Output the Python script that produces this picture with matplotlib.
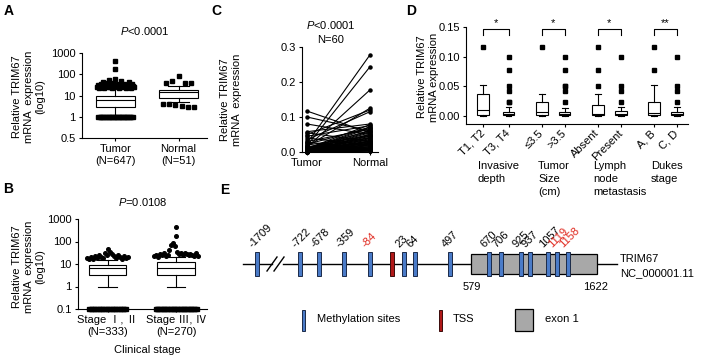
import numpy as np
import matplotlib
matplotlib.use("Agg")
import matplotlib.pyplot as plt
from matplotlib.patches import Rectangle

plt.rcParams['font.family'] = ['Liberation Sans', 'Noto Sans CJK SC', 'DejaVu Sans']
plt.rcParams['font.size'] = 8
plt.rcParams['mathtext.fontset'] = 'custom'
plt.rcParams['mathtext.it'] = 'Liberation Sans:italic'
plt.rcParams['mathtext.rm'] = 'Liberation Sans'
plt.rcParams['axes.linewidth'] = 0.8
plt.rcParams['xtick.major.width'] = 0.8
plt.rcParams['ytick.major.width'] = 0.8
plt.rcParams['xtick.major.size'] = 2.5
plt.rcParams['ytick.major.size'] = 2.5

# ---------------- data ----------------
# Panel A
a_labels = ["Tumor\n(N=647)", "Normal\n(N=51)"]
a_tumor_box = [1, 3, 6, 10, 22]          # whislo, q1, med, q3, whishi
a_normal_box = [5, 8, 15, 18, 27]
a_tumor_high = [24, 30, 22, 28, 35, 25, 45, 23, 32, 27, 40, 24, 55, 26, 30, 22, 38, 25,
                60, 28, 33, 23, 26, 48, 29, 24, 36, 27, 22, 31, 25, 42, 26, 23, 35, 28, 24]
a_tumor_top = [180, 430]
a_tumor_low = [1.0] * 28
a_normal_high = [40, 50, 85, 40, 40]
a_normal_low = [4, 3.8, 3.5, 3.2, 3, 3]
a_yticks = [0.5, 1, 10, 100, 1000]

# Panel B
b_labels = ["Stage Ⅰ, Ⅱ\n(N=333)", "Stage Ⅲ, Ⅳ\n(N=270)"]
b_early_box = [1, 3.2, 6.5, 9, 15]
b_late_box = [1, 3.2, 6.5, 12, 20]
b_early_high = [18, 16, 20, 17, 22, 19, 25, 21, 18, 30, 24, 45, 35, 27, 22, 19, 24, 20, 17, 22, 18, 20]
b_late_high = [22, 25, 21, 28, 24, 30, 23, 26, 40, 70, 85, 60, 35, 28, 32, 25, 30, 27, 24, 29, 26, 23, 30, 22]
b_late_top = [170, 440]
b_early_zero = [0.1] * 24
b_late_zero = [0.1] * 30
b_yticks = [0.1, 1, 10, 100, 1000]

# Panel C (paired)
c_labels = ["Tumor", "Normal"]
c_tumor = [0.117, 0.100, 0.080, 0.058, 0.055, 0.050, 0.045, 0.040, 0.035, 0.030, 0.028, 0.025,
           0.022, 0.020, 0.018, 0.016, 0.015, 0.014, 0.012, 0.011, 0.010, 0.010, 0.009, 0.008,
           0.008, 0.007, 0.007, 0.006, 0.006, 0.005, 0.005, 0.005, 0.004, 0.004, 0.004, 0.003,
           0.003, 0.003, 0.003, 0.002, 0.002, 0.002, 0.002, 0.002, 0.001, 0.001, 0.001, 0.001,
           0.001, 0.001, 0.001, 0.001, 0.0005, 0.0005, 0.0005, 0.0005, 0.0003, 0.0003, 0.0002, 0.0002]
c_normal = [0.055, 0.060, 0.050, 0.080, 0.030, 0.120, 0.075, 0.020, 0.115, 0.065, 0.010, 0.277,
            0.070, 0.045, 0.243, 0.125, 0.040, 0.177, 0.060, 0.035, 0.078, 0.050, 0.025, 0.072,
            0.030, 0.068, 0.015, 0.062, 0.040, 0.058, 0.020, 0.055, 0.048, 0.012, 0.045, 0.042,
            0.030, 0.038, 0.008, 0.035, 0.032, 0.025, 0.028, 0.022, 0.018, 0.050, 0.015, 0.010,
            0.030, 0.008, 0.005, 0.020, 0.012, 0.004, 0.025, 0.006, 0.015, 0.003, 0.010, 0.002]

# Panel D
d_labels = ["T1, T2", "T3, T4", "≤3.5", ">3.5", "Absent", "Present", "A, B", "C, D"]
d_groups = ["Invasive\ndepth", "Tumor\nSize\n(cm)", "Lymph\nnode\nmetastasis", "Dukes\nstage"]
d_sig = ["*", "*", "*", "**"]
d_whislo = [0, 0, 0, 0, 0, 0, 0, 0]
d_q1 = [0.001, 0.001, 0.002, 0.001, 0.001, 0.001, 0.002, 0.001]
d_med = [0.010, 0.004, 0.006, 0.004, 0.004, 0.003, 0.005, 0.003]
d_q3 = [0.037, 0.007, 0.023, 0.007, 0.019, 0.009, 0.024, 0.007]
d_whishi = [0.052, 0.015, 0.037, 0.014, 0.037, 0.015, 0.052, 0.015]
d_fliers = [[0.117],
            [0.023, 0.024, 0.042, 0.050, 0.078, 0.100],
            [0.117],
            [0.023, 0.042, 0.050, 0.051, 0.078, 0.100],
            [0.051, 0.078, 0.117],
            [0.023, 0.042, 0.050, 0.100],
            [0.078, 0.117],
            [0.023, 0.042, 0.050, 0.100]]

# Panel E
e_sites = ["-1709", "-722", "-678", "-359", "-84", "23", "64", "497",
           "670", "706", "925", "937", "1057", "1119", "1158"]
e_red_sites = ["-84", "1119", "1158"]
e_exon_ends = ["579", "1622"]

# ---------------- figure ----------------
W, H = 704, 360
fig = plt.figure(figsize=(W / 100, H / 100), dpi=100)


def px_axes(x0, y0, x1, y1):
    return fig.add_axes([x0 / W, 1 - y1 / H, (x1 - x0) / W, (y1 - y0) / H])


def ftext(x, y, s, **kw):
    fig.text(x / W, 1 - y / H, s, **kw)


def style(ax):
    for s in ['top', 'right']:
        ax.spines[s].set_visible(False)
    ax.tick_params(labelsize=8, pad=2)


def box_stats(vals):
    return dict(whislo=vals[0], q1=vals[1], med=vals[2], q3=vals[3], whishi=vals[4], fliers=[])


def draw_boxes(ax, stats, pos, width, capw):
    ax.bxp(stats, positions=pos, widths=width, showfliers=False, patch_artist=True,
           capwidths=capw,
           boxprops=dict(facecolor='white', edgecolor='black', linewidth=0.8),
           medianprops=dict(color='black', linewidth=0.8),
           whiskerprops=dict(color='black', linewidth=0.8),
           capprops=dict(color='black', linewidth=0.8))


def spread(ax, x, vals, hw, marker, ms, **kw):
    n = len(vals)
    offs = np.linspace(-hw, hw, n) if n > 1 else np.zeros(1)
    ax.plot(x + offs, vals, linestyle='none', marker=marker, ms=ms, color='black',
            clip_on=False, zorder=5, **kw)


def panel_letter(x, y, s):
    ftext(x, y, s, fontsize=10, fontweight='bold', ha='center', va='center')


# axis of panel A: log above 1, a compressed (broken) segment from 0.5 to 1
def a_fwd(y):
    y = np.asarray(y, dtype=float)
    with np.errstate(divide='ignore', invalid='ignore'):
        return np.where(y >= 1, np.log10(np.maximum(y, 1e-12)), (y - 1) / 0.5)


def a_inv(u):
    u = np.asarray(u, dtype=float)
    return np.where(u >= 0, 10.0 ** u, 1 + 0.5 * u)


# ---- Panel A ----
axA = px_axes(82, 53, 207, 138)
style(axA)
axA.set_yscale('function', functions=(a_fwd, a_inv))
draw_boxes(axA, [box_stats(a_tumor_box), box_stats(a_normal_box)], [1, 2], 0.62, 0.32)
spread(axA, 1, a_tumor_high, 0.3, 's', 2.6)
spread(axA, 1, a_tumor_top, 0.0, 's', 2.6)
spread(axA, 1, a_tumor_low, 0.27, 's', 2.6)
spread(axA, 2, a_normal_high, 0.2, 's', 2.6)
spread(axA, 2, a_normal_low, 0.25, 's', 2.6)
axA.set_ylim(0.5, 1000)
axA.set_xlim(0.47, 2.45)
axA.set_yticks(a_yticks)
axA.set_yticklabels([f"{v:g}" for v in a_yticks])
axA.minorticks_off()
axA.set_xticks([1, 2])
axA.set_xticklabels(a_labels)
axA.set_title(r'$P$<0.0001', fontsize=8, pad=13)
ftext(29, 97, "Relative TRIM67\nmRNA  expression\n(log10)", rotation=90, ha='center', va='center',
      multialignment='center')
panel_letter(9, 11, "A")

# ---- Panel B ----
axB = px_axes(78, 219, 207, 309)
style(axB)
axB.set_yscale('log')
draw_boxes(axB, [box_stats(b_early_box), box_stats(b_late_box)], [1, 2], 0.55, 0.27)
spread(axB, 1, b_early_high, 0.3, 'o', 2.6)
spread(axB, 2, b_late_high, 0.32, 'o', 2.6)
spread(axB, 2, b_late_top, 0.0, 'o', 2.6)
spread(axB, 1, b_early_zero, 0.27, 's', 2.6)
spread(axB, 2, b_late_zero, 0.3, 's', 2.6)
axB.set_ylim(0.1, 1000)
axB.set_xlim(0.57, 2.45)
axB.set_yticks(b_yticks)
axB.set_yticklabels([f"{v:g}" for v in b_yticks])
axB.minorticks_off()
axB.set_xticks([1, 2])
axB.set_xticklabels(b_labels)
axB.set_title(r'$P$=0.0108', fontsize=8, pad=9)
ftext(147, 350, "Clinical stage", ha='center', va='center')
ftext(29, 267, "Relative TRIM67\nmRNA  expression\n(log10)", rotation=90, ha='center', va='center',
      multialignment='center')
panel_letter(8, 189, "B")

# ---- Panel C ----
axC = px_axes(302, 47, 378, 152)
style(axC)
for t, nv in zip(c_tumor, c_normal):
    axC.plot([0, 1], [t, nv], color='black', lw=0.8, marker='o', ms=2.2, clip_on=False)
axC.set_ylim(0, 0.3)
axC.set_xlim(-0.08, 1.13)
axC.set_yticks([0, 0.1, 0.2, 0.3])
axC.set_yticklabels(['0.0', '0.1', '0.2', '0.3'])
axC.set_xticks([0, 1])
axC.set_xticklabels(c_labels)
ftext(331, 25, r'$P$<0.0001', ha='center', va='center')
ftext(331, 40, "N=60", ha='center', va='center')
ftext(231, 100, "Relative TRIM67\nmRNA  expression", rotation=90, ha='center', va='center',
      multialignment='center')
panel_letter(216, 11, "C")

# ---- Panel D ----
axD = px_axes(466, 27, 688, 124)
style(axD)
d_pos = [1, 2, 3.3, 4.2, 5.5, 6.4, 7.7, 8.6]
stats = [dict(whislo=a, q1=b, med=c, q3=d, whishi=e, fliers=[])
         for a, b, c, d, e in zip(d_whislo, d_q1, d_med, d_q3, d_whishi)]
draw_boxes(axD, stats, d_pos, 0.45, 0.22)
for p, fl in zip(d_pos, d_fliers):
    axD.plot([p] * len(fl), fl, linestyle='none', marker='s', ms=2.6, color='black',
             clip_on=False, zorder=5)
axD.set_ylim(-0.0135, 0.15)
axD.set_xlim(0.33, 9.03)
axD.set_yticks([0, 0.05, 0.10, 0.15])
axD.set_yticklabels(['0.00', '0.05', '0.10', '0.15'])
axD.set_xticks(d_pos)
axD.set_xticklabels(d_labels, rotation=45, ha='right', va='center', rotation_mode='anchor')
axD.tick_params(axis='x', pad=3)
for i, s in enumerate(d_sig):
    x1, x2 = d_pos[2 * i], d_pos[2 * i + 1]
    axD.plot([x1, x1, x2, x2], [0.137, 0.146, 0.146, 0.137], color='black', lw=0.8, clip_on=False)
    axD.text((x1 + x2) / 2, 0.149, s, ha='center', va='bottom', fontsize=8)
for gx, g in zip([478, 538, 593, 651], d_groups):
    ftext(gx, 161, g, ha='left', va='top', linespacing=1.35)
ftext(428, 77, "Relative TRIM67\nmRNA expression", rotation=90, ha='center', va='center',
      multialignment='center')
panel_letter(411, 11, "D")

# ---- Panel E ----
axE = px_axes(220, 180, 704, 360)
axE.set_xlim(220, 704)
axE.set_ylim(360, 180)
axE.axis('off')
site_x = [257, 300, 319, 344, 370, 404, 415, 450, 489, 501, 521, 530, 548, 557, 568]
tss_x = 392
exon_x = (471, 597)
line_y = 264
blue = '#4A7BC8'
red = '#B01818'
axE.plot([243, 272], [line_y, line_y], color='black', lw=1.0)
axE.plot([283, 617], [line_y, line_y], color='black', lw=1.0)
axE.plot([267, 277], [271, 257], color='black', lw=1.0)
axE.plot([274, 284], [271, 257], color='black', lw=1.0)
axE.add_patch(Rectangle((exon_x[0], 254), exon_x[1] - exon_x[0], 20, facecolor='#A8A8A8',
                        edgecolor='black', lw=0.9, zorder=3))
for x, lab in zip(site_x, e_sites):
    axE.add_patch(Rectangle((x - 1.7, 252), 3.4, 24, facecolor=blue, edgecolor='#1B2A48', lw=0.7, zorder=4))
    col = '#E0281E' if lab in e_red_sites else 'black'
    axE.text(x - 3, 249, lab, rotation=45, ha='left', va='bottom', rotation_mode='anchor',
             color=col, fontsize=8)
axE.add_patch(Rectangle((tss_x - 1.7, 252), 3.4, 24, facecolor=red, edgecolor='#3A0A0A', lw=0.7, zorder=4))
axE.text(exon_x[0] + 1, 287, e_exon_ends[0], ha='center', va='center', fontsize=8)
axE.text(exon_x[1] - 1, 287, e_exon_ends[1], ha='center', va='center', fontsize=8)
axE.text(620, 259, "TRIM67", ha='left', va='center', fontsize=8)
axE.text(620, 273, "NC_000001.11", ha='left', va='center', fontsize=8)
# legend
axE.add_patch(Rectangle((301.5, 310), 3.4, 21, facecolor=blue, edgecolor='#1B2A48', lw=0.7))
axE.text(317, 319, "Methylation sites", ha='left', va='center', fontsize=8)
axE.add_patch(Rectangle((438.5, 310), 3.4, 21, facecolor=red, edgecolor='#3A0A0A', lw=0.7))
axE.text(453, 319, "TSS", ha='left', va='center', fontsize=8)
axE.add_patch(Rectangle((515, 309), 18, 22, facecolor='#A8A8A8', edgecolor='black', lw=0.9))
axE.text(545, 319, "exon 1", ha='left', va='center', fontsize=8)
panel_letter(225, 190, "E")

fig.savefig("out.png", dpi=100)
